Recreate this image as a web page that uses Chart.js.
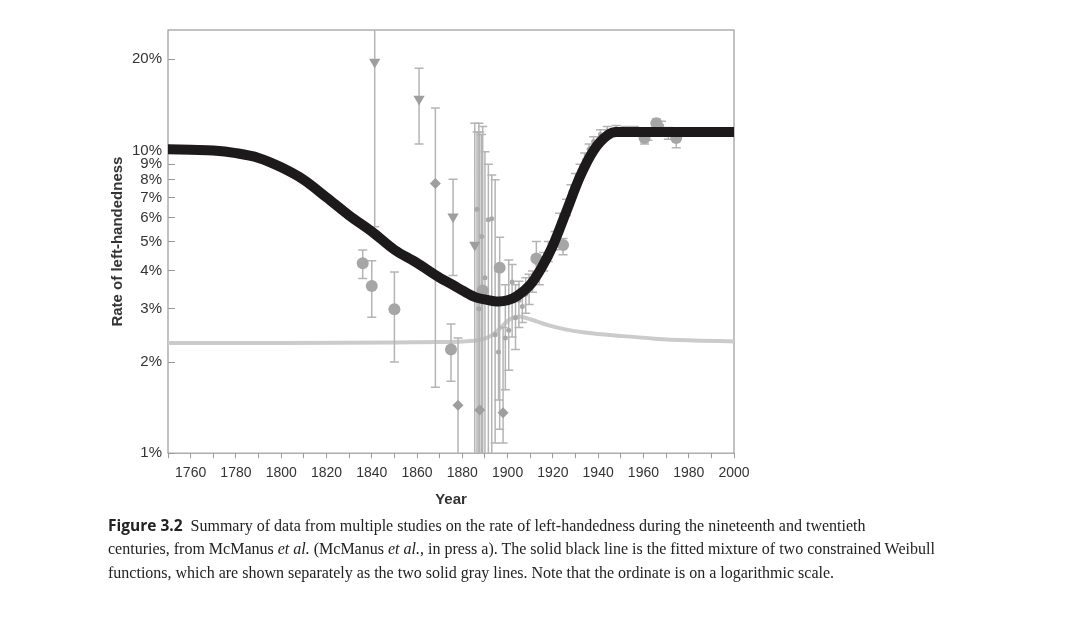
<!DOCTYPE html>
<html>
<head>
<meta charset="utf-8">
<script src="https://cdn.jsdelivr.net/npm/chart.js@4"></script>
<style>
  html, body { margin: 0; padding: 0; background: #fff; }
  body { width: 1080px; height: 618px; position: relative; overflow: hidden; }
  #wrap { position: absolute; left: 0; top: 0; width: 1080px; height: 520px; }
  .cap { position: absolute; left: 108px; white-space: nowrap; font-family: "Liberation Serif", "Times New Roman", serif; font-size: 16px; line-height: 24px; color: #222; }
  .cap b { font-family: "Open Sans", "Noto Sans", sans-serif; font-weight: 700; font-size: 15.5px; margin-right: 4px; }
</style>
</head>
<body>
<div id="wrap"><canvas id="handChart"></canvas></div>
<div class="cap" style="top:513px"><b>Figure 3.2</b> Summary of data from multiple studies on the rate of left-handedness during the nineteenth and twentieth</div>
<div class="cap" style="top:537px">centuries, from McManus <i>et al.</i> (McManus <i>et al.</i>, in press a). The solid black line is the fitted mixture of two constrained Weibull</div>
<div class="cap" style="top:561px">functions, which are shown separately as the two solid gray lines. Note that the ordinate is on a logarithmic scale.</div>
<script>
// Fitted mixture (black line)
const fitYears = [1750, 1760, 1770, 1780, 1790, 1800, 1810, 1820, 1830, 1840, 1850, 1860, 1870, 1876, 1880, 1886, 1890, 1896, 1900, 1904, 1910, 1915, 1920, 1926, 1932, 1938, 1944, 1948, 1955, 1970, 1985, 2000];
const fitRates = [10.1, 10.05, 10.0, 9.8, 9.45, 8.8, 8.0, 7.0, 6.1, 5.4, 4.7, 4.25, 3.8, 3.59, 3.45, 3.27, 3.22, 3.17, 3.2, 3.3, 3.6, 4.1, 4.85, 6.3, 8.2, 10.0, 11.2, 11.5, 11.5, 11.5, 11.5, 11.5];

// Weibull component (gray line)
const compYears = [1750, 1800, 1850, 1870, 1880, 1888, 1893, 1897, 1901, 1905, 1910, 1917, 1925, 1935, 1950, 1965, 1980, 2000];
const compRates = [2.31, 2.31, 2.32, 2.33, 2.34, 2.37, 2.45, 2.6, 2.77, 2.83, 2.77, 2.66, 2.57, 2.5, 2.44, 2.39, 2.36, 2.34];

// Study estimates, by marker
const circleYears = [1836, 1840, 1850, 1875, 1889, 1896.5, 1912.7, 1924.5, 1960.5, 1965.7, 1974.5];
const circleRates = [4.24, 3.57, 2.99, 2.2, 3.45, 4.1, 4.4, 4.87, 11.0, 12.3, 11.0];
const circleLow = [3.78, 2.81, 2.0, 1.73, 0.5, 1.2, 3.9, 4.52, 10.5, 11.8, 10.2];
const circleHigh = [4.69, 4.32, 3.97, 2.67, 12.0, 5.17, 5.0, 5.12, 11.5, 12.7, 11.6];

const triangleYears = [1841.3, 1860.9, 1875.9, 1885.5];
const triangleRates = [19.6, 14.8, 6.04, 4.87];
const triangleLow = [5.6, 10.5, 3.86, 0.5];
const triangleHigh = [40, 18.7, 8.04, 12.3];

const diamondYears = [1868.1, 1878.1, 1887.7, 1898];
const diamondRates = [7.78, 1.44, 1.39, 1.36];
const diamondLow = [1.65, 0.5, 0.5, 1.08];
const diamondHigh = [13.8, 2.4, 11.5, 2.6];

const smallYears = [1886.5, 1887.3, 1888.5, 1890, 1891.5, 1893, 1894.5, 1896, 1899, 1900.5, 1902, 1903.5, 1905, 1906.5, 1908, 1909.5, 1911, 1914, 1916, 1918, 1921, 1923, 1926, 1928, 1930, 1932, 1934, 1936, 1938, 1941, 1944, 1948, 1952, 1956, 1962, 1968, 1971];
const smallRates = [6.4, 3.0, 5.2, 3.8, 5.9, 5.95, 2.46, 2.16, 2.4, 2.55, 3.68, 2.8, 3.2, 3.05, 3.35, 3.5, 3.7, 3.9, 4.3, 4.6, 5.0, 5.8, 6.5, 7.3, 7.9, 8.6, 9.3, 10.1, 10.7, 11.3, 11.6, 11.8, 11.7, 11.7, 11.3, 12.1, 11.4];
const smallLow = [0.5, 0.5, 0.5, 0.5, 0.6, 0.8, 1.08, 1.5, 1.62, 1.88, 2.42, 2.2, 2.6, 2.7, 2.9, 3.1, 3.4, 3.6, 4.0, 4.3, 4.7, 5.4, 6.1, 6.9, 7.5, 8.2, 8.9, 9.7, 10.3, 10.9, 11.2, 11.5, 11.4, 11.4, 10.8, 11.6, 10.9];
const smallHigh = [11.5, 12.3, 11.3, 9.9, 9.0, 8.3, 8.0, 4.0, 3.6, 4.35, 4.2, 3.6, 3.7, 3.5, 3.8, 3.9, 4.0, 4.2, 4.6, 5.0, 5.4, 6.2, 6.9, 7.7, 8.4, 9.0, 9.8, 10.5, 11.1, 11.7, 12.0, 12.1, 12.0, 12.0, 11.8, 12.5, 11.9];

// Axis ticks
const xTickValues = [1750, 1760, 1770, 1780, 1790, 1800, 1810, 1820, 1830, 1840, 1850, 1860, 1870, 1880, 1890, 1900, 1910, 1920, 1930, 1940, 1950, 1960, 1970, 1980, 1990, 2000];
const xTickLabels = [1760, 1780, 1800, 1820, 1840, 1860, 1880, 1900, 1920, 1940, 1960, 1980, 2000];
const yTickValues = [1, 2, 3, 4, 5, 6, 7, 8, 9, 10, 20];

const toPoints = (xs, ys) => xs.map((x, i) => ({ x: x, y: ys[i] }));

// vertical whiskers, broken apart by null points
const toWhiskers = (xs, lo, hi) => {
  const pts = [];
  xs.forEach((x, i) => {
    pts.push({ x: x, y: lo[i] }, { x: x, y: hi[i] }, { x: x, y: null });
  });
  return pts;
};

const whisker = (data) => ({
  data: data,
  showLine: true,
  spanGaps: false,
  borderColor: "#b4b4b4",
  borderWidth: 1.5,
  pointStyle: "line",
  pointRadius: 4.5,
  pointBorderColor: "#b4b4b4",
  pointBorderWidth: 1.5,
  clip: 0,
});

const frame = {
  id: "frame",
  beforeDatasetsDraw(chart) {
    const { ctx, chartArea: a } = chart;
    ctx.save();
    ctx.strokeStyle = "#9a9a9a";
    ctx.lineWidth = 1.2;
    ctx.strokeRect(a.left, a.top, a.right - a.left, a.bottom - a.top);
    ctx.restore();
  },
};

const textColor = "#333";

new Chart(document.getElementById("handChart").getContext("2d"), {
  type: "scatter",
  data: {
    datasets: [
      {
        data: toPoints(fitYears, fitRates),
        showLine: true,
        borderColor: "#1c1a1a",
        borderWidth: 10,
        borderCapStyle: "round",
        cubicInterpolationMode: "monotone",
        pointRadius: 0,
      },
      {
        data: toPoints(circleYears, circleRates),
        pointStyle: "circle",
        pointRadius: 6,
        backgroundColor: "#a6a6a6",
        borderWidth: 0,
      },
      {
        data: toPoints(triangleYears, triangleRates),
        pointStyle: "triangle",
        rotation: 180,
        pointRadius: 6.5,
        backgroundColor: "#9e9e9e",
        borderWidth: 0,
      },
      {
        data: toPoints(diamondYears, diamondRates),
        pointStyle: "rectRot",
        pointRadius: 5.5,
        backgroundColor: "#9e9e9e",
        borderWidth: 0,
      },
      {
        data: toPoints(smallYears, smallRates),
        pointStyle: "circle",
        pointRadius: 2.5,
        backgroundColor: "#a8a8a8",
        borderWidth: 0,
      },
      whisker(toWhiskers(circleYears, circleLow, circleHigh)),
      whisker(toWhiskers(triangleYears, triangleLow, triangleHigh)),
      whisker(toWhiskers(diamondYears, diamondLow, diamondHigh)),
      whisker(toWhiskers(smallYears, smallLow, smallHigh)),
      {
        data: toPoints(compYears, compRates),
        showLine: true,
        borderColor: "#cbcbcb",
        borderWidth: 4,
        cubicInterpolationMode: "monotone",
        pointRadius: 0,
      },
    ],
  },
  options: {
    responsive: true,
    maintainAspectRatio: false,
    animation: false,
    layout: {
      padding: { left: 104.5, right: 346, top: 30, bottom: 11 },
    },
    plugins: {
      legend: { display: false },
      tooltip: { enabled: false },
    },
    scales: {
      x: {
        type: "linear",
        min: 1750,
        max: 2000,
        afterBuildTicks: (s) => {
          s.ticks = xTickValues.map((v) => ({ value: v }));
        },
        ticks: {
          autoSkip: false,
          maxRotation: 0,
          padding: 7,
          color: textColor,
          font: { family: "'Liberation Sans', Arial, sans-serif", size: 14 },
          callback: (v) => (xTickLabels.includes(v) ? String(v) : ""),
        },
        grid: { drawOnChartArea: false, tickLength: 5, color: "#9a9a9a" },
        border: { display: false },
        title: {
          display: true,
          text: "Year",
          color: textColor,
          padding: { top: 2, bottom: 0 },
          font: { family: "'Liberation Sans', Arial, sans-serif", size: 15, weight: "bold" },
        },
      },
      y: {
        type: "logarithmic",
        min: 1,
        max: 25,
        afterBuildTicks: (s) => {
          s.ticks = yTickValues.map((v) => ({ value: v }));
        },
        afterFit: (s) => {
          s.width = 63.5;
        },
        ticks: {
          padding: 13,
          color: textColor,
          font: { family: "'Liberation Sans', Arial, sans-serif", size: 15 },
          callback: (v) => v + "%",
        },
        grid: { drawOnChartArea: false, tickLength: -7, color: "#9a9a9a" },
        border: { display: false },
        title: {
          display: true,
          text: "Rate of left-handedness",
          color: textColor,
          padding: { top: 4, bottom: 0 },
          font: { family: "'Liberation Sans', Arial, sans-serif", size: 15, weight: "bold" },
        },
      },
    },
  },
  plugins: [frame],
});
</script>
</body>
</html>
